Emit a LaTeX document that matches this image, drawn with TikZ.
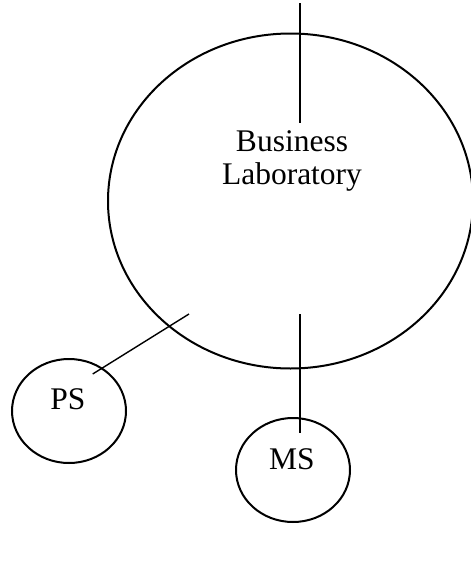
\documentclass[tikz,border=0pt]{standalone}
\usepackage{fontspec}
\setmainfont{Liberation Serif}
\usetikzlibrary{shapes.geometric}
\begin{document}
\begin{tikzpicture}[x=1pt,y=-1pt,
  ring/.style={draw, ellipse, line width=2pt, inner sep=0pt},
  lbl/.style={font=\fontsize{31.5}{33}\selectfont, align=center, inner sep=0pt},
  link/.style={line width=1.4pt}]
\useasboundingbox (0,0) rectangle (471,565);
% circles
\node[ring, minimum width=365pt, minimum height=335pt] (lab) at (290.5,201) {};
\node[ring, minimum width=114pt, minimum height=104pt] (ps) at (69,411) {};
\node[ring, minimum width=114pt, minimum height=104pt] (ms) at (293,470) {};
% labels
\node[lbl] (labtext) at (292,161) {Business\\Laboratory};
\node[lbl, anchor=base] (pstext) at (68,409) {PS};
\node[lbl, anchor=base] (mstext) at (292,469.3) {MS};
% connector end points
\coordinate (topA) at (300,3);
\coordinate (topB) at (300,122.7);
\coordinate (msA) at (300,314);
\coordinate (msB) at (300,433);
\coordinate (psA) at (189,314);
\coordinate (psB) at (92.7,374);
% connectors
\draw[link] (topA) -- (topB);
\draw[link] (msA) -- (msB);
\draw[link] (psA) -- (psB);
\end{tikzpicture}
\end{document}
